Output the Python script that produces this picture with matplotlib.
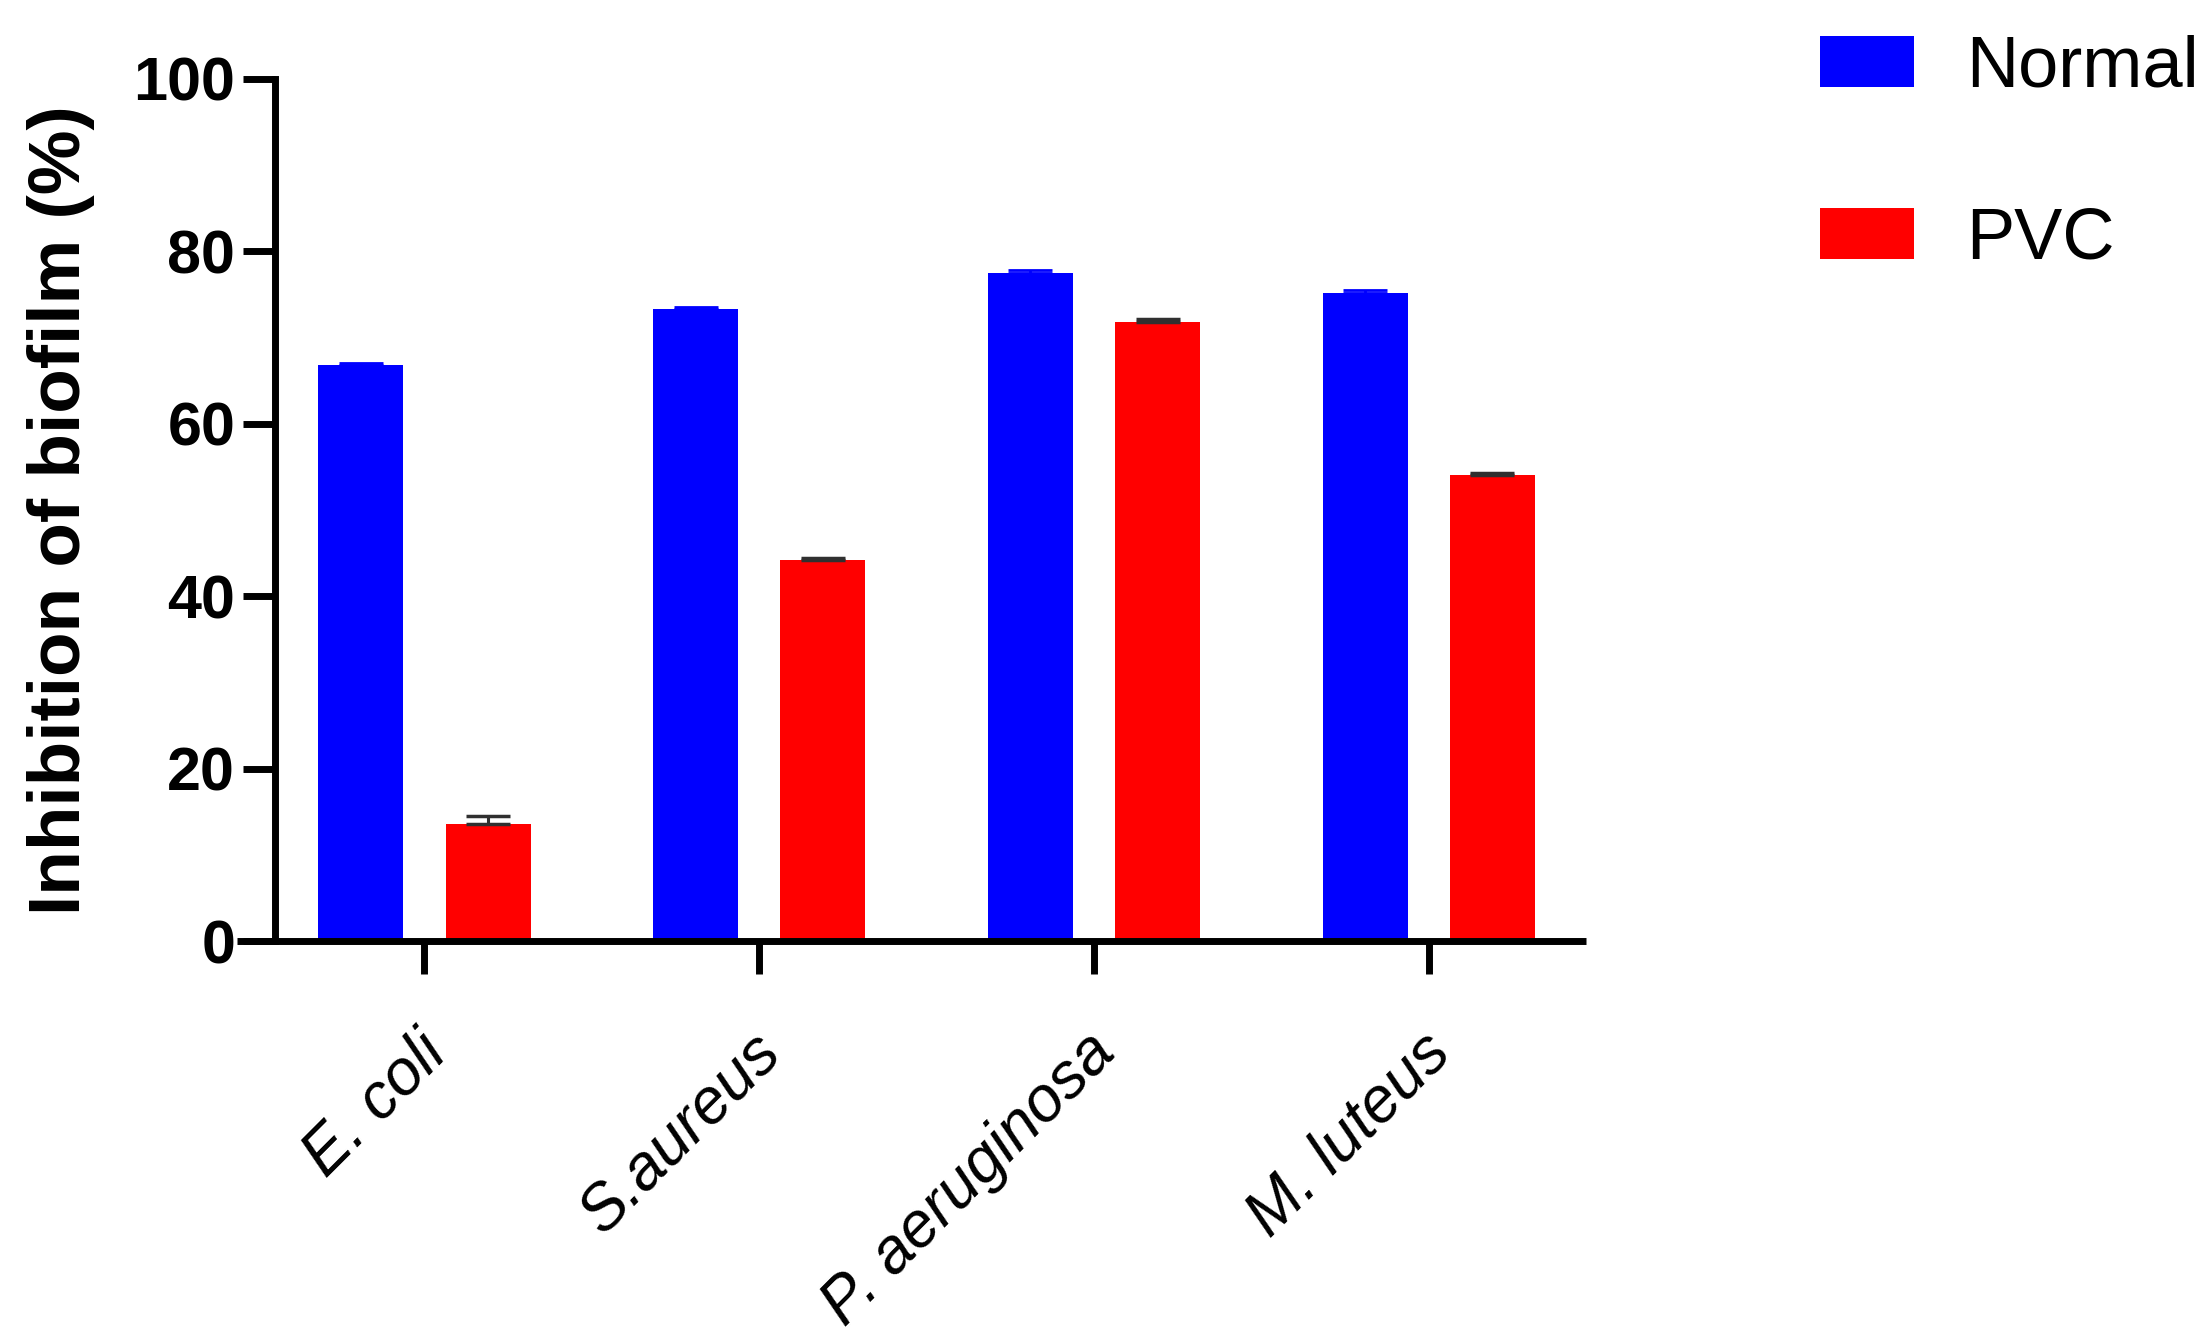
import matplotlib
matplotlib.use("Agg")
import matplotlib.pyplot as plt
import matplotlib.transforms as mtransforms
from matplotlib.patches import Patch
import numpy as np

categories = ["E. coli", "S.aureus", "P. aeruginosa", "M. luteus"]
normal = [66.8, 73.3, 77.5, 75.2]
normal_err = [0.3, 0.3, 0.3, 0.3]
pvc = [13.6, 44.2, 71.8, 54.1]
pvc_err = [0.9, 0.2, 0.3, 0.2]
series_names = ["Normal", "PVC"]
yticks = [0, 20, 40, 60, 80, 100]

plt.rcParams['font.family'] = ['Liberation Sans', 'DejaVu Sans']

W, H = 2211, 1340
fig = plt.figure(figsize=(W / 100, H / 100), dpi=100)
ax_l, ax_r, ax_b, ax_t = 237, 1586, 941, 79
ax = fig.add_axes([ax_l / W, 1 - ax_b / H, (ax_r - ax_l) / W, (ax_b - ax_t) / H])

x = np.arange(len(categories))
bw = 0.254
off = 0.19
blue = "#0000FF"
red = "#FF0000"
n = len(categories)
ax.bar(x - off, normal, bw, color=blue, zorder=2)
ax.bar(x + off, pvc, bw, color=red, zorder=2)
ax.errorbar(x - off, normal, yerr=[[0] * n, normal_err], fmt='none', ecolor=blue,
            elinewidth=2, capsize=16, capthick=2, zorder=3)
ax.errorbar(x + off, pvc, yerr=[[0] * n, pvc_err], fmt='none', ecolor="#303030",
            elinewidth=2.2, capsize=16, capthick=2.5, zorder=3)

ax.set_xlim(-0.56, 3.47)
ax.set_ylim(0, 100)

for s in ["top", "right"]:
    ax.spines[s].set_visible(False)
ax.spines["left"].set_position(("data", -0.445))
ax.spines["left"].set_linewidth(5)
ax.spines["bottom"].set_linewidth(5)
ax.spines["left"].set_capstyle("projecting")
ax.spines["bottom"].set_capstyle("butt")

ax.set_yticks(yticks)
ax.set_yticklabels([str(v) for v in yticks], fontsize=44, fontweight='bold')
ax.tick_params(axis='y', length=23, width=5, pad=6)
ax.tick_params(axis='x', length=24, width=5, pad=8)
ax.set_xticks(x)
ax.set_xticklabels(categories, fontsize=46, fontstyle='italic', rotation=45,
                   ha='right', va='baseline', rotation_mode='anchor')
offset = mtransforms.ScaledTranslation(0.24, -0.70, fig.dpi_scale_trans)
for lab in ax.get_xticklabels():
    lab.set_transform(lab.get_transform() + offset)

ax.set_ylabel("Inhibition of biofilm (%)", fontsize=52.5, fontweight='bold')
ax.yaxis.set_label_coords(-0.105, 0.5)

handles = [Patch(facecolor=blue, edgecolor='none'), Patch(facecolor=red, edgecolor='none')]
fig.legend(handles, series_names, loc='upper left', bbox_to_anchor=(1791 / W, 1 - 6 / H),
           frameon=False, fontsize=52, handlelength=1.3, handleheight=0.7,
           handletextpad=0.72, labelspacing=1.45, borderaxespad=0)

fig.savefig("out.png", dpi=100, facecolor='white')
